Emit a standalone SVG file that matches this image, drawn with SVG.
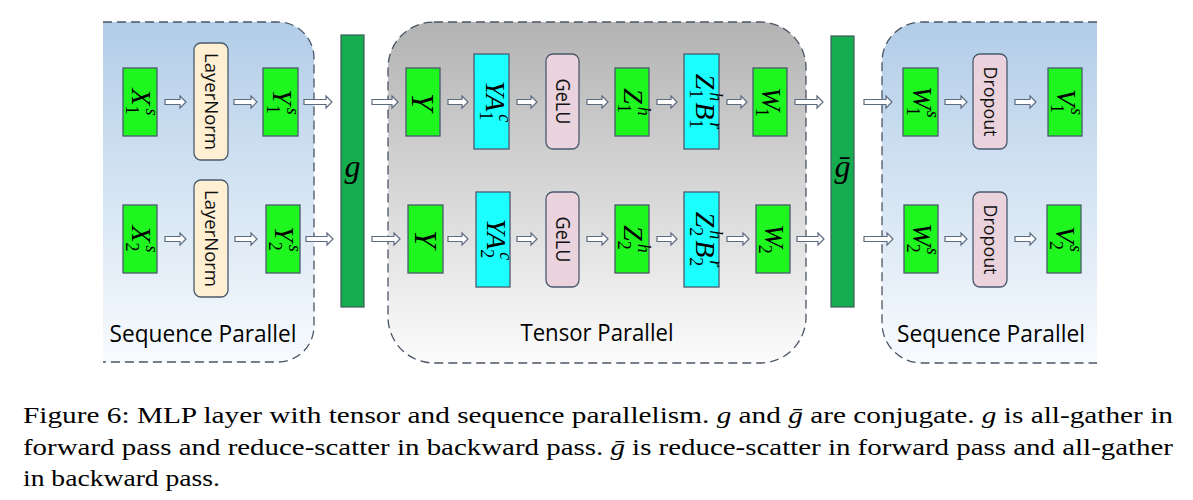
<svg xmlns="http://www.w3.org/2000/svg" width="1193" height="500" viewBox="0 0 1193 500">
<defs>
<linearGradient id="gBlue" x1="0" y1="0" x2="0" y2="1">
<stop offset="0" stop-color="#b2cde8"/>
<stop offset="1" stop-color="#f8fbfe"/>
</linearGradient>
<linearGradient id="gGray" x1="0" y1="0" x2="0" y2="1">
<stop offset="0" stop-color="#b3b3b3"/>
<stop offset="1" stop-color="#fcfcfc"/>
</linearGradient>
<style>
.pb{fill:none;stroke:#4a5566;stroke-width:1.3;stroke-dasharray:9 5}
.gr{fill:#1ff51f;stroke:#4a5a6e;stroke-width:1.3}
.cy{fill:#1cffff;stroke:#4a5a6e;stroke-width:1.3}
.ln{fill:#fff0d3;stroke:#4a5a6e;stroke-width:1.3}
.pk{fill:#ead3dc;stroke:#4a5a6e;stroke-width:1.3}
.bar{fill:#16ad50;stroke:#3d5a55;stroke-width:1.2}
.ar{fill:#ffffff;stroke:#5d6b80;stroke-width:1.2}
.m{font-family:"Liberation Serif","Times New Roman",serif;font-style:italic;font-size:28px;fill:#000}
.sb{font-size:18px;font-style:normal}
.sp{font-size:18px}
.lb{font-family:"Open Sans","Noto Sans",sans-serif;font-size:18.5px;fill:#111}
.pl{font-family:"Open Sans","Noto Sans",sans-serif;font-size:23.5px;fill:#000}
.cap{font-family:"Liberation Serif","Times New Roman",serif;font-size:23px;fill:#000}
.it{font-style:italic}
</style>
</defs>
<rect width="1193" height="500" fill="#ffffff"/>

<g id="panel-left">
<path d="M103,22 H278 A36,36 0 0 1 314,58 V326 A36,36 0 0 1 278,362 H103 Z" fill="url(#gBlue)"/>
<path class="pb" d="M103,22 H278 A36,36 0 0 1 314,58 V326 A36,36 0 0 1 278,362 H103"/>
<text class="pl" x="203" y="342" text-anchor="middle" textLength="187" lengthAdjust="spacingAndGlyphs">Sequence Parallel</text>
</g>
<g id="panel-middle">
<rect x="388" y="22" width="418" height="341" rx="46" fill="url(#gGray)"/>
<rect class="pb" x="388" y="22" width="418" height="341" rx="46"/>
<text class="pl" x="597" y="341" text-anchor="middle" textLength="153" lengthAdjust="spacingAndGlyphs">Tensor Parallel</text>
</g>
<g id="panel-right">
<path d="M1097,22 H922 A40,40 0 0 0 882,62 V323 A40,40 0 0 0 922,363 H1097 Z" fill="url(#gBlue)"/>
<path class="pb" d="M1097,22 H922 A40,40 0 0 0 882,62 V323 A40,40 0 0 0 922,363 H1097"/>
<text class="pl" x="991" y="342" text-anchor="middle" textLength="188" lengthAdjust="spacingAndGlyphs">Sequence Parallel</text>
</g>

<g id="connectors">
<polygon class="ar" points="165,99.5 180,99.5 180,96 186,102 180,108 180,104.5 165,104.5"/>
<polygon class="ar" points="234,99.5 251,99.5 251,96 257,102 251,108 251,104.5 234,104.5"/>
<polygon class="ar" points="304,99.5 326,99.5 326,96 332,102 326,108 326,104.5 304,104.5"/>
<polygon class="ar" points="165,236.5 180,236.5 180,233 186,239 180,245 180,241.5 165,241.5"/>
<polygon class="ar" points="235,236.5 251,236.5 251,233 257,239 251,245 251,241.5 235,241.5"/>
<polygon class="ar" points="306,236.5 327,236.5 327,233 333,239 327,245 327,241.5 306,241.5"/>
<polygon class="ar" points="372,99.5 392,99.5 392,96 398,102 392,108 392,104.5 372,104.5"/>
<polygon class="ar" points="372,236.5 394,236.5 394,233 400,239 394,245 394,241.5 372,241.5"/>
<polygon class="ar" points="448,99.5 462,99.5 462,96 468,102 462,108 462,104.5 448,104.5"/>
<polygon class="ar" points="517,99.5 531,99.5 531,96 537,102 531,108 531,104.5 517,104.5"/>
<polygon class="ar" points="587,99.5 602,99.5 602,96 608,102 602,108 602,104.5 587,104.5"/>
<polygon class="ar" points="657,99.5 671,99.5 671,96 677,102 671,108 671,104.5 657,104.5"/>
<polygon class="ar" points="727,99.5 741,99.5 741,96 747,102 741,108 741,104.5 727,104.5"/>
<polygon class="ar" points="795,99.5 817,99.5 817,96 823,102 817,108 817,104.5 795,104.5"/>
<polygon class="ar" points="448,236.5 462,236.5 462,233 468,239 462,245 462,241.5 448,241.5"/>
<polygon class="ar" points="517,236.5 531,236.5 531,233 537,239 531,245 531,241.5 517,241.5"/>
<polygon class="ar" points="587,236.5 602,236.5 602,233 608,239 602,245 602,241.5 587,241.5"/>
<polygon class="ar" points="657,236.5 671,236.5 671,233 677,239 671,245 671,241.5 657,241.5"/>
<polygon class="ar" points="727,236.5 743,236.5 743,233 749,239 743,245 743,241.5 727,241.5"/>
<polygon class="ar" points="797,236.5 818,236.5 818,233 824,239 818,245 818,241.5 797,241.5"/>
<polygon class="ar" points="864,99.5 886,99.5 886,96 892,102 886,108 886,104.5 864,104.5"/>
<polygon class="ar" points="864,236.5 887,236.5 887,233 893,239 887,245 887,241.5 864,241.5"/>
<polygon class="ar" points="945,99.5 961,99.5 961,96 967,102 961,108 961,104.5 945,104.5"/>
<polygon class="ar" points="1015,99.5 1030,99.5 1030,96 1036,102 1030,108 1030,104.5 1015,104.5"/>
<polygon class="ar" points="945,236.5 961,236.5 961,233 967,239 961,245 961,241.5 945,241.5"/>
<polygon class="ar" points="1015,236.5 1030,236.5 1030,233 1036,239 1030,245 1030,241.5 1015,241.5"/>
</g>

<g id="X1s"><rect class="gr" x="123" y="68" width="34" height="68"/>
<text class="m" transform="translate(140,102) rotate(90)" y="8" text-anchor="middle">X<tspan class="sb" dy="6">1</tspan><tspan class="sp" dx="-6" dy="-20">s</tspan></text></g>
<g id="X2s"><rect class="gr" x="123" y="205" width="34" height="68"/>
<text class="m" transform="translate(140,239) rotate(90)" y="8" text-anchor="middle">X<tspan class="sb" dy="6">2</tspan><tspan class="sp" dx="-6" dy="-20">s</tspan></text></g>
<g id="LayerNorm1"><rect class="ln" x="194" y="43" width="34" height="117" rx="7"/>
<text class="lb" transform="translate(211,101.5) rotate(90)" y="6.5" text-anchor="middle" textLength="97" lengthAdjust="spacingAndGlyphs">LayerNorm</text></g>
<g id="LayerNorm2"><rect class="ln" x="194" y="180" width="34" height="117" rx="7"/>
<text class="lb" transform="translate(211,238.5) rotate(90)" y="6.5" text-anchor="middle" textLength="97" lengthAdjust="spacingAndGlyphs">LayerNorm</text></g>
<g id="Y1s"><rect class="gr" x="263" y="68" width="35" height="68"/>
<text class="m" transform="translate(280.5,102) rotate(90)" y="8" text-anchor="middle">Y<tspan class="sb" dy="6">1</tspan><tspan class="sp" dx="-6" dy="-20">s</tspan></text></g>
<g id="Y2s"><rect class="gr" x="266" y="205" width="34" height="68"/>
<text class="m" transform="translate(283,239) rotate(90)" y="8" text-anchor="middle">Y<tspan class="sb" dy="6">2</tspan><tspan class="sp" dx="-6" dy="-20">s</tspan></text></g>

<g id="g-bar"><rect class="bar" x="341" y="35" width="23" height="272"/>
<text class="m" x="352.5" y="177" text-anchor="middle" style="font-size:32px">g</text></g>

<g id="Y-r1"><rect class="gr" x="406" y="68" width="34" height="68"/>
<text class="m" transform="translate(423,102) rotate(90)" y="11" text-anchor="middle" style="font-size:32px">Y</text></g>
<g id="Y-r2"><rect class="gr" x="408" y="205" width="35" height="68"/>
<text class="m" transform="translate(425.5,239) rotate(90)" y="11" text-anchor="middle" style="font-size:32px">Y</text></g>
<g id="YA1c"><rect class="cy" x="474" y="54" width="35" height="95"/>
<text class="m" transform="translate(491.5,101.5) rotate(90)" y="6" text-anchor="middle">YA<tspan class="sb" dy="6">1</tspan><tspan class="sp" dx="-6" dy="-19">c</tspan></text></g>
<g id="YA2c"><rect class="cy" x="476" y="192" width="34" height="95"/>
<text class="m" transform="translate(493,239.5) rotate(90)" y="6" text-anchor="middle">YA<tspan class="sb" dy="6">2</tspan><tspan class="sp" dx="-6" dy="-19">c</tspan></text></g>
<g id="GeLU1"><rect class="pk" x="546" y="54" width="33" height="95" rx="7"/>
<text class="lb" transform="translate(562.5,101.5) rotate(90)" y="7" text-anchor="middle" textLength="46" lengthAdjust="spacingAndGlyphs" style="font-size:20px">GeLU</text></g>
<g id="GeLU2"><rect class="pk" x="546" y="192" width="33" height="95" rx="7"/>
<text class="lb" transform="translate(562.5,239.5) rotate(90)" y="7" text-anchor="middle" textLength="46" lengthAdjust="spacingAndGlyphs" style="font-size:20px">GeLU</text></g>
<g id="Z1h"><rect class="gr" x="615" y="68" width="34" height="68"/>
<text class="m" transform="translate(632,102) rotate(90)" y="8" text-anchor="middle">Z<tspan class="sb" dy="6">1</tspan><tspan class="sp" dx="-6" dy="-20">h</tspan></text></g>
<g id="Z2h"><rect class="gr" x="615" y="205" width="34" height="68"/>
<text class="m" transform="translate(632,239) rotate(90)" y="8" text-anchor="middle">Z<tspan class="sb" dy="6">2</tspan><tspan class="sp" dx="-6" dy="-20">h</tspan></text></g>
<g id="Z1hB1r"><rect class="cy" x="684" y="54" width="35" height="95"/>
<text class="m" transform="translate(701.5,101.5) rotate(90)" y="6" text-anchor="middle">Z<tspan class="sb" dy="6">1</tspan><tspan class="sp" dx="-6" dy="-20">h</tspan><tspan dx="1" dy="14">B</tspan><tspan class="sb" dy="6">1</tspan><tspan class="sp" dx="-6" dy="-20">r</tspan></text></g>
<g id="Z2hB2r"><rect class="cy" x="684" y="192" width="35" height="95"/>
<text class="m" transform="translate(701.5,239.5) rotate(90)" y="6" text-anchor="middle">Z<tspan class="sb" dy="6">2</tspan><tspan class="sp" dx="-6" dy="-20">h</tspan><tspan dx="1" dy="14">B</tspan><tspan class="sb" dy="6">2</tspan><tspan class="sp" dx="-6" dy="-20">r</tspan></text></g>
<g id="W1"><rect class="gr" x="753" y="68" width="34" height="68"/>
<text class="m" transform="translate(770,102) rotate(90)" y="8" text-anchor="middle">W<tspan class="sb" dx="-3" dy="6">1</tspan></text></g>
<g id="W2"><rect class="gr" x="756" y="205" width="34" height="68"/>
<text class="m" transform="translate(773,239) rotate(90)" y="8" text-anchor="middle">W<tspan class="sb" dx="-3" dy="6">2</tspan></text></g>

<g id="gbar-bar"><rect class="bar" x="831" y="36" width="23" height="271"/>
<text class="m" x="842.5" y="177" text-anchor="middle" style="font-size:32px">ḡ</text></g>

<g id="W1s"><rect class="gr" x="903" y="68" width="35" height="68"/>
<text class="m" transform="translate(920.5,102) rotate(90)" y="8" text-anchor="middle">W<tspan class="sb" dx="-3" dy="6">1</tspan><tspan class="sp" dx="-5" dy="-20">s</tspan></text></g>
<g id="W2s"><rect class="gr" x="904" y="205" width="34" height="68"/>
<text class="m" transform="translate(921,239) rotate(90)" y="8" text-anchor="middle">W<tspan class="sb" dx="-3" dy="6">2</tspan><tspan class="sp" dx="-5" dy="-20">s</tspan></text></g>
<g id="Dropout1"><rect class="pk" x="973" y="54" width="34" height="95" rx="7"/>
<text class="lb" transform="translate(990,101.5) rotate(90)" y="6.5" text-anchor="middle" textLength="70" lengthAdjust="spacingAndGlyphs">Dropout</text></g>
<g id="Dropout2"><rect class="pk" x="973" y="192" width="34" height="95" rx="7"/>
<text class="lb" transform="translate(990,239.5) rotate(90)" y="6.5" text-anchor="middle" textLength="70" lengthAdjust="spacingAndGlyphs">Dropout</text></g>
<g id="V1s"><rect class="gr" x="1048" y="68" width="34" height="68"/>
<text class="m" transform="translate(1065,102) rotate(90)" y="8" text-anchor="middle">V<tspan class="sb" dx="-2" dy="6">1</tspan><tspan class="sp" dx="-5" dy="-20">s</tspan></text></g>
<g id="V2s"><rect class="gr" x="1047" y="205" width="34" height="68"/>
<text class="m" transform="translate(1064,239) rotate(90)" y="8" text-anchor="middle">V<tspan class="sb" dx="-2" dy="6">2</tspan><tspan class="sp" dx="-5" dy="-20">s</tspan></text></g>

<g id="caption">
<text class="cap" x="23" y="423" textLength="1150" lengthAdjust="spacingAndGlyphs">Figure 6: MLP layer with tensor and sequence parallelism. <tspan class="it">g</tspan> and <tspan class="it">ḡ</tspan> are conjugate. <tspan class="it">g</tspan> is all-gather in</text>
<text class="cap" x="23" y="455" textLength="1150" lengthAdjust="spacingAndGlyphs">forward pass and reduce-scatter in backward pass. <tspan class="it">ḡ</tspan> is reduce-scatter in forward pass and all-gather</text>
<text class="cap" x="23" y="486" textLength="197" lengthAdjust="spacingAndGlyphs">in backward pass.</text>
</g>
</svg>
